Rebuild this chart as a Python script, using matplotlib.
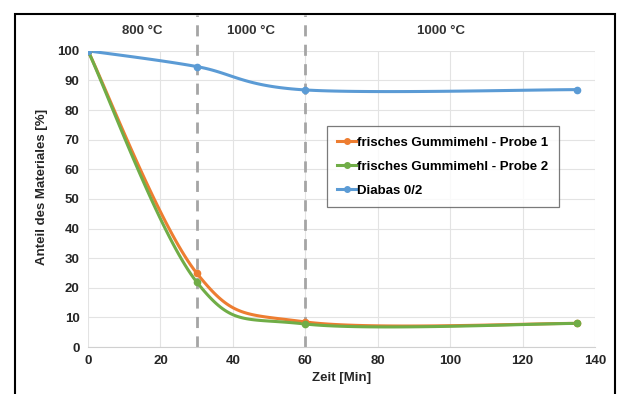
import matplotlib.pyplot as plt
import numpy as np
from matplotlib.patches import Rectangle

plt.rcParams['font.family'] = ['Liberation Sans', 'DejaVu Sans']

zeit = [0, 30, 60, 135]
probe1 = [100, 25, 8.5, 8]
probe2 = [100, 22, 7.8, 8]
diabas = [100, 94.7, 86.8, 86.9]
temp_labels = ['800 °C', '1000 °C', '1000 °C']
temp_x = [15, 45, 97.5]
grenzen = [30, 60]


def smooth(x, y, n=40):
    # excel style smoothed line (catmull-rom bezier)
    x = np.asarray(x, float)
    y = np.asarray(y, float)
    px = np.concatenate([[x[0]], x, [x[-1]]])
    py = np.concatenate([[y[0]], y, [y[-1]]])
    t = np.linspace(0, 1, n)
    xs, ys = [], []
    for i in range(1, len(px) - 2):
        p0 = np.array([px[i], py[i]])
        p3 = np.array([px[i + 1], py[i + 1]])
        c1 = p0 + (np.array([px[i + 1], py[i + 1]]) - np.array([px[i - 1], py[i - 1]])) / 6
        c2 = p3 - (np.array([px[i + 2], py[i + 2]]) - np.array([px[i], py[i]])) / 6
        b = ((1 - t) ** 3)[:, None] * p0 + (3 * (1 - t) ** 2 * t)[:, None] * c1 \
            + (3 * (1 - t) * t ** 2)[:, None] * c2 + (t ** 3)[:, None] * p3
        xs.extend(b[:, 0])
        ys.extend(b[:, 1])
    return xs, ys


fs = 9.5
fig = plt.figure(figsize=(6.22, 3.94), dpi=100)
ax = fig.add_axes([0.1415, 0.119, 0.815, 0.752])

fig.patches.append(Rectangle((15 / 622, -0.1), 600 / 622, 1.1 - 14 / 394, transform=fig.transFigure,
                             fill=False, edgecolor='black', linewidth=1.5, zorder=0))

for g in grenzen:
    ax.plot([g, g], [0, 112], color='#A5A5A5', linestyle=(0, (4, 3)), linewidth=2,
            clip_on=False, zorder=1)

serien = [(probe1, '#ED7D31', 'frisches Gummimehl - Probe 1'),
          (probe2, '#70AD47', 'frisches Gummimehl - Probe 2'),
          (diabas, '#5B9BD5', 'Diabas 0/2')]
for werte, farbe, name in serien:
    sx, sy = smooth(zeit, werte)
    ax.plot(sx, sy, color=farbe, linewidth=2.2, zorder=3)
    ax.plot(zeit, werte, 'o', color=farbe, markersize=4.5, zorder=4)
    ax.plot([], [], '-o', color=farbe, linewidth=2.2, markersize=4, label=name)

for lbl, tx in zip(temp_labels, temp_x):
    ax.text(tx, 106.6, lbl, ha='center', va='center', fontsize=fs, fontweight='bold',
            color='#333333')

ax.set_xlim(0, 140)
ax.set_ylim(0, 100)
ax.set_xticks(range(0, 141, 20))
ax.set_yticks(range(0, 101, 10))
ax.grid(color='#E3E3E3', linewidth=0.8)
ax.set_axisbelow(True)
for s in ['top', 'right', 'left']:
    ax.spines[s].set_visible(False)
ax.spines['bottom'].set_color('#D0D0D0')
ax.tick_params(length=0, labelsize=fs, colors='#262626', pad=6)
for t in ax.get_xticklabels() + ax.get_yticklabels():
    t.set_fontweight('bold')
ax.set_xlabel('Zeit [Min]', fontsize=fs, fontweight='bold', color='#262626', labelpad=3)
ax.set_ylabel('Anteil des Materiales [%]', fontsize=fs, fontweight='bold', color='#262626')
ax.yaxis.set_label_coords(-0.078, 0.542)

leg = ax.legend(loc='upper left', bbox_to_anchor=(0.471, 0.747), fontsize=fs, frameon=True,
                fancybox=False, edgecolor='#595959', handlelength=1.4, handletextpad=0.1,
                labelspacing=0.9, borderpad=0.8, borderaxespad=0)
leg.get_frame().set_linewidth(0.9)
for t in leg.get_texts():
    t.set_fontweight('bold')

fig.savefig('out.png', dpi=100)
